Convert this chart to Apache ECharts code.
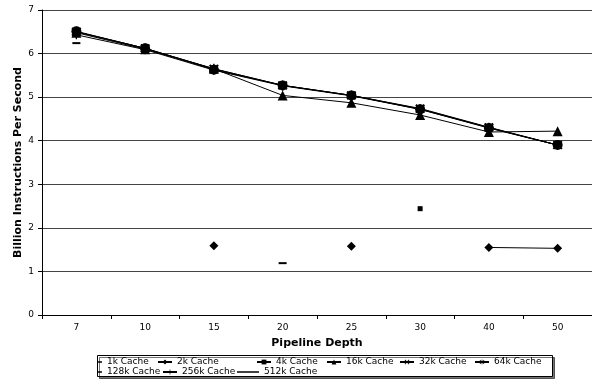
<!DOCTYPE html>
<html>
<head>
<meta charset="utf-8">
<style>
  html, body { margin: 0; padding: 0; background: #fff; }
  #chart { width: 592px; height: 379px; }
</style>
<script src="https://cdn.jsdelivr.net/npm/echarts@6/dist/echarts.min.js"></script>
</head>
<body>
<div id="chart"></div>
<script>
// Pipeline depths on the category axis
const depths = ['7', '10', '15', '20', '25', '30', '40', '50'];

// Throughput (billion instructions per second) per cache size
const cache1k   = [null, null, null, null, null, null, null, null];
const cache2k   = [null, null, 1.59, null, 1.58, null, 1.55, 1.53];
const cache4k   = [null, null, null, null, null, 2.44, null, null];
const cache16k  = [6.48, 6.10, 5.65, 5.04, 4.87, 4.59, 4.20, 4.22];
const cache32k  = [6.50, 6.12, 5.65, 5.27, 5.04, 4.74, 4.31, 3.90];
const cache64k  = [6.50, 6.12, 5.65, 5.27, 5.04, 4.73, 4.30, 3.90];
const cache128k = [6.51, 6.12, 5.63, 5.27, 5.04, 4.72, 4.29, 3.90];
const cache256k = [6.43, 6.09, 5.62, 5.26, 5.03, 4.72, 4.30, 3.90];
const cache512k = [6.24, null, null, 1.19, null, null, null, null];

const yTicks = [0, 1, 2, 3, 4, 5, 6, 7];

const FONT = 'DejaVu Sans';

// Marker shapes
const xMark = 'path://M0,1.2L1.2,0L5,3.8L8.8,0L10,1.2L6.2,5L10,8.8L8.8,10L5,6.2L1.2,10L0,8.8L3.8,5Z';
const starMark = 'path://M0,1.2L1.2,0L5,3.8L8.8,0L10,1.2L6.2,5L10,8.8L8.8,10L5,6.2L1.2,10L0,8.8L3.8,5Z' +
                 'M4.4,-1H5.6V11H4.4Z';
const plusMark = 'path://M4.3,0H5.7V4.3H10V5.7H5.7V10H4.3V5.7H0V4.3H4.3Z';

const seriesDefs = [
  { name: '1k Cache',   data: cache1k,   symbol: 'rect',     size: [6, 1.5] },
  { name: '2k Cache',   data: cache2k,   symbol: 'diamond',  size: 9 },
  { name: '4k Cache',   data: cache4k,   symbol: 'rect',     size: 5 },
  { name: '16k Cache',  data: cache16k,  symbol: 'triangle', size: 10 },
  { name: '32k Cache',  data: cache32k,  symbol: xMark,      size: 9 },
  { name: '64k Cache',  data: cache64k,  symbol: starMark,   size: 10 },
  { name: '128k Cache', data: cache128k, symbol: 'circle',   size: 10 },
  { name: '256k Cache', data: cache256k, symbol: plusMark,   size: 9 },
  { name: '512k Cache', data: cache512k, symbol: 'rect',     size: [8, 2] }
];

const series = seriesDefs.map(d => ({
  name: d.name,
  type: 'line',
  data: d.data,
  symbol: d.symbol,
  symbolSize: d.size,
  showAllSymbol: true,
  connectNulls: false,
  lineStyle: { color: '#000', width: 1 },
  itemStyle: { color: '#000' },
  emphasis: { disabled: true },
  animation: false
}));

// Legend entries, laid out in two rows inside a framed box.
// Dash-style entries get a flat bar as their key.
const legendSlots = [
  { name: '1k Cache',   left: 98,  row: 0, w: 4,  h: 1.5, icon: 'rect' },
  { name: '2k Cache',   left: 157, row: 0, w: 14, h: 6 },
  { name: '4k Cache',   left: 256, row: 0, w: 14, h: 6 },
  { name: '16k Cache',  left: 326, row: 0, w: 14, h: 6 },
  { name: '32k Cache',  left: 399, row: 0, w: 14, h: 6 },
  { name: '64k Cache',  left: 474, row: 0, w: 14, h: 6 },
  { name: '128k Cache', left: 98,  row: 1, w: 4,  h: 1.5, icon: 'rect' },
  { name: '256k Cache', left: 162, row: 1, w: 14, h: 6 },
  { name: '512k Cache', left: 237, row: 1, w: 22, h: 1.5, icon: 'rect' }
];

const legends = legendSlots.map(s => ({
  data: [s.icon ? { name: s.name, icon: s.icon } : s.name],
  left: s.left,
  top: 357 + s.row * 10,
  padding: 0,
  itemWidth: s.w,
  itemHeight: s.h,
  itemGap: 0,
  symbolKeepAspect: false,
  selectedMode: false,
  textStyle: { fontFamily: FONT, fontSize: 9, color: '#000', lineHeight: 10 }
}));

const chart = echarts.init(document.getElementById('chart'), null, { renderer: 'canvas' });

chart.setOption({
  animation: false,
  backgroundColor: '#fff',
  grid: { left: 42, top: 10, width: 553, bottom: 64, containLabel: false },
  legend: legends,
  graphic: [
    {
      type: 'rect',
      shape: { x: 97.5, y: 355.5, width: 455, height: 21 },
      style: { fill: '#fff', stroke: '#000', lineWidth: 1,
               shadowColor: 'rgba(0,0,0,0.55)', shadowOffsetX: 2, shadowOffsetY: 2, shadowBlur: 0 },
      z: -1,
      silent: true
    }
  ],
  xAxis: {
    type: 'category',
    data: depths,
    boundaryGap: true,
    name: 'Pipeline Depth',
    nameLocation: 'middle',
    nameGap: 23,
    nameTextStyle: { fontFamily: FONT, fontSize: 11, fontWeight: 'bold', color: '#000' },
    axisLine: { lineStyle: { color: '#000', width: 1 } },
    axisTick: { show: true, interval: 0, length: 4, lineStyle: { color: '#000' } },
    axisLabel: { fontFamily: FONT, fontSize: 9, color: '#000', margin: 8, interval: 0 },
    splitLine: { show: false }
  },
  yAxis: {
    type: 'value',
    min: yTicks[0],
    max: yTicks[yTicks.length - 1],
    interval: 1,
    name: 'Billion Instructions Per Second',
    nameLocation: 'middle',
    nameGap: 18,
    nameMoveOverlap: false,
    nameTextStyle: { fontFamily: FONT, fontSize: 11, fontWeight: 'bold', color: '#000' },
    axisLine: { show: true, lineStyle: { color: '#000', width: 1 } },
    axisTick: { show: true, length: 4, lineStyle: { color: '#000' } },
    axisLabel: { fontFamily: FONT, fontSize: 9, color: '#000', margin: 8 },
    splitLine: { show: true, lineStyle: { color: '#444', width: 1 } }
  },
  series: series
});
</script>
</body>
</html>
